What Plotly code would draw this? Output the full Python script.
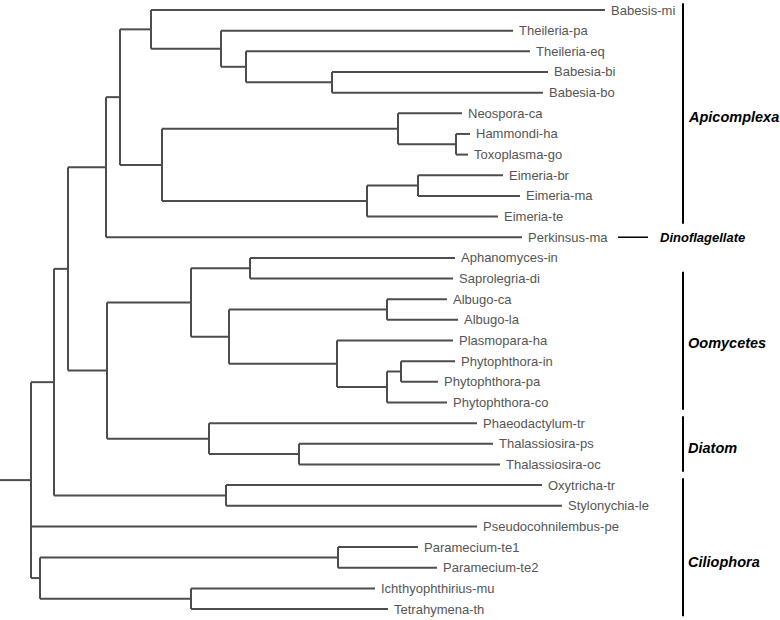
import plotly.graph_objects as go

# ---- data ----
tip_names = ["Babesis-mi", "Theileria-pa", "Theileria-eq", "Babesia-bi", "Babesia-bo",
             "Neospora-ca", "Hammondi-ha", "Toxoplasma-go", "Eimeria-br", "Eimeria-ma",
             "Eimeria-te", "Perkinsus-ma", "Aphanomyces-in", "Saprolegria-di", "Albugo-ca",
             "Albugo-la", "Plasmopara-ha", "Phytophthora-in", "Phytophthora-pa", "Phytophthora-co",
             "Phaeodactylum-tr", "Thalassiosira-ps", "Thalassiosira-oc", "Oxytricha-tr",
             "Stylonychia-le", "Pseudocohnilembus-pe", "Paramecium-te1", "Paramecium-te2",
             "Ichthyophthirius-mu", "Tetrahymena-th"]
tip_depth = [605, 513, 530, 548, 543, 462, 470, 468, 503, 520, 498, 522, 455, 453, 447,
             458, 453, 455, 438, 447, 477, 493, 500, 542, 562, 477, 418, 437, 375, 388]

node_ids = ["D", "C", "B", "A", "F", "E", "H", "G", "I", "J", "K", "O", "Q", "T", "S", "R",
            "P", "N", "V", "U", "M", "L", "Cil", "W", "Par", "Z", "Y", "X"]
node_depth = [332, 246, 221, 151, 456, 398, 418, 367, 162, 120, 106, 250, 387, 401, 387, 337,
              229, 191, 299, 209, 107, 68, 226, 54, 338, 191, 40, 31]
node_children = [["Babesia-bi", "Babesia-bo"], ["Theileria-eq", "D"], ["Theileria-pa", "C"],
                 ["Babesis-mi", "B"], ["Hammondi-ha", "Toxoplasma-go"], ["Neospora-ca", "F"],
                 ["Eimeria-br", "Eimeria-ma"], ["H", "Eimeria-te"], ["E", "G"], ["A", "I"],
                 ["J", "Perkinsus-ma"], ["Aphanomyces-in", "Saprolegria-di"],
                 ["Albugo-ca", "Albugo-la"], ["Phytophthora-in", "Phytophthora-pa"],
                 ["T", "Phytophthora-co"], ["Plasmopara-ha", "S"], ["Q", "R"], ["O", "P"],
                 ["Thalassiosira-ps", "Thalassiosira-oc"], ["Phaeodactylum-tr", "V"], ["N", "U"],
                 ["K", "M"], ["Oxytricha-tr", "Stylonychia-le"], ["L", "Cil"],
                 ["Paramecium-te1", "Paramecium-te2"], ["Ichthyophthirius-mu", "Tetrahymena-th"],
                 ["Par", "Z"], ["W", "Pseudocohnilembus-pe", "Y"]]
root_depth = 0

group_names = ["Apicomplexa", "Oomycetes", "Diatom", "Ciliophora"]
group_first = [0, 13, 20, 23]
group_last = [10, 19, 22, 29]
group_label_pos = [5.2, 16.1, 21.2, 26.7]
dino_name = "Dinoflagellate"
dino_leaf = 11

# ---- build tree geometry ----
pos_x = {}
pos_y = {}
for i, (n, d) in enumerate(zip(tip_names, tip_depth)):
    pos_x[n] = d
    pos_y[n] = i
for nid, d, ch in zip(node_ids, node_depth, node_children):
    pos_x[nid] = d
    pos_y[nid] = (pos_y[ch[0]] + pos_y[ch[-1]]) / 2

xs, ys = [], []
for nid, ch in zip(node_ids, node_children):
    px = pos_x[nid]
    xs += [px, px, None]
    ys += [pos_y[ch[0]], pos_y[ch[-1]], None]
    for c in ch:
        xs += [px, pos_x[c], None]
        ys += [pos_y[c], pos_y[c], None]
top = node_ids[-1]
xs += [root_depth, pos_x[top], None]
ys += [pos_y[top], pos_y[top], None]

fig = go.Figure()
fig.add_trace(go.Scatter(x=xs, y=ys, mode="lines",
                         line=dict(color="#4d4d4d", width=2), hoverinfo="skip",
                         showlegend=False, cliponaxis=False))

for i, (n, d) in enumerate(zip(tip_names, tip_depth)):
    fig.add_annotation(x=d, y=i, text=n, xanchor="left", yanchor="middle", showarrow=False,
                       xshift=4, font=dict(family="Liberation Sans, Arial", size=13, color="#555555"))

bx = 683
for g, f, l, lp in zip(group_names, group_first, group_last, group_label_pos):
    fig.add_trace(go.Scatter(x=[bx, bx], y=[f - 0.33, l + 0.35], mode="lines",
                             line=dict(color="black", width=2), hoverinfo="skip",
                             showlegend=False, cliponaxis=False))
    fig.add_annotation(x=bx, y=lp, text="<b><i>" + g + "</i></b>", xanchor="left",
                       yanchor="middle", showarrow=False, xshift=3,
                       font=dict(family="Liberation Sans, Arial", size=14.5, color="black"))

fig.add_trace(go.Scatter(x=[618, 648], y=[dino_leaf, dino_leaf], mode="lines",
                         line=dict(color="black", width=1.5), hoverinfo="skip", showlegend=False))
fig.add_annotation(x=648, y=dino_leaf, text="<b><i>" + dino_name + "</i></b>", xanchor="left",
                   yanchor="middle", showarrow=False, xshift=10,
                   font=dict(family="Liberation Sans, Arial", size=13, color="black"))

fig.update_layout(width=780, height=620, margin=dict(l=0, r=0, t=0, b=0),
                  plot_bgcolor="white", paper_bgcolor="white",
                  xaxis=dict(range=[0, 780], visible=False, fixedrange=True),
                  yaxis=dict(range=[29.53, -0.484], visible=False, fixedrange=True))

# remove the page's default body margin so the figure fills the window exactly
fig.write_html("out.html", config={"displayModeBar": False},
               post_script="document.body.style.margin='0';")
